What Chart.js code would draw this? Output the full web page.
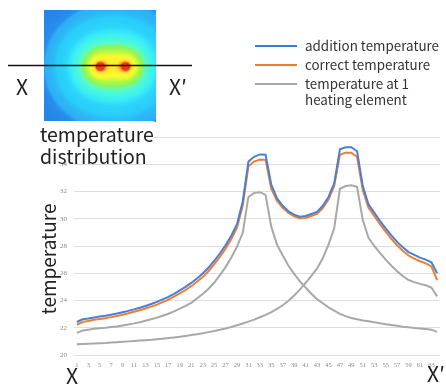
<!DOCTYPE html>
<html lang="en">
<head>
<meta charset="UTF-8">
<title>temperature distribution</title>
<script src="https://cdn.jsdelivr.net/npm/chart.js"></script>
<style>
  body { margin: 0; background: #fff; }
  #wrap { position: relative; width: 446px; height: 388px; overflow: hidden; font-family: "Noto Sans CJK JP", "Noto Sans", sans-serif; color: #222; }
  #chart { position: absolute; left: 0; top: 0; }
  .txt { position: absolute; white-space: nowrap; line-height: 1; }
  .big { font-size: 21px; }
  #dist { left: 38px; top: 121px; width: 114px; height: 40px; font-size: 19.5px; line-height: 22px; background: #fff; padding: 2px 0 0 2px; }
  #ytitle { left: 47px; top: 259px; font-size: 19px; transform: translate(-50%, -50%) rotate(-90deg); }
  .leg { position: absolute; left: 255px; font-size: 13.4px; line-height: 16px; color: #333; }
  .leg i { position: absolute; left: 0; width: 42px; height: 2px; }
  .leg span { position: absolute; left: 50px; top: 0; white-space: nowrap; }
</style>
</head>
<body>
<div id="wrap">
  <canvas id="chart" width="446" height="388"></canvas>
  <div class="txt big" style="left:16px; top:76px;">X</div>
  <div class="txt big" style="left:169px; top:76px;">X′</div>
  <div id="dist" class="txt">temperature<br>distribution</div>
  <div id="ytitle" class="txt">temperature</div>
  <div class="txt big" style="left:66px; top:365px;">X</div>
  <div class="txt big" style="left:427px; top:363px;">X′</div>
  <div class="leg" style="top:37px;"><i style="top:8px; background:#3a7be0;"></i><span>addition temperature</span></div>
  <div class="leg" style="top:56px;"><i style="top:8px; background:#f07b2c;"></i><span>correct temperature</span></div>
  <div class="leg" style="top:75px;"><i style="top:8px; background:#a9a9a9;"></i><span>temperature at 1<br>heating element</span></div>
</div>
<script>
// measuring points along X - X'
const positions = [1, 2, 3, 4, 5, 6, 7, 8, 9, 10, 11, 12, 13, 14, 15, 16, 17, 18, 19, 20,
  21, 22, 23, 24, 25, 26, 27, 28, 29, 30, 31, 32, 33, 34, 35, 36, 37, 38, 39, 40,
  41, 42, 43, 44, 45, 46, 47, 48, 49, 50, 51, 52, 53, 54, 55, 56, 57, 58, 59, 60,
  61, 62, 63, 64];

const additionTemp = [22.42, 22.62, 22.68, 22.76, 22.82, 22.88, 22.96, 23.04, 23.14, 23.24,
  23.35, 23.47, 23.6, 23.74, 23.9, 24.08, 24.27, 24.49, 24.74, 25.0,
  25.29, 25.61, 25.98, 26.4, 26.9, 27.45, 28.05, 28.75, 29.6, 31.25,
  34.2, 34.55, 34.72, 34.7, 32.5, 31.5, 30.95, 30.55, 30.3, 30.15,
  30.2, 30.35, 30.5, 30.95, 31.6, 32.6, 35.1, 35.25, 35.25, 34.95,
  32.4, 31.05, 30.45, 29.85, 29.3, 28.78, 28.3, 27.9, 27.55, 27.35,
  27.15, 27.0, 26.8, 26.0];

const correctTemp = [22.22, 22.42, 22.5, 22.58, 22.64, 22.7, 22.78, 22.86, 22.96, 23.06,
  23.17, 23.29, 23.41, 23.55, 23.7, 23.88, 24.07, 24.28, 24.52, 24.77,
  25.05, 25.37, 25.73, 26.15, 26.65, 27.2, 27.8, 28.5, 29.35, 30.95,
  33.85, 34.2, 34.35, 34.32, 32.2, 31.3, 30.8, 30.42, 30.18, 30.03,
  30.06, 30.2, 30.35, 30.78, 31.42, 32.4, 34.7, 34.85, 34.85, 34.55,
  32.1, 30.8, 30.2, 29.6, 29.05, 28.53, 28.05, 27.65, 27.3, 27.08,
  26.88, 26.72, 26.5, 25.5];

// one heating element only (left one, then right one)
const leftElementTemp = [21.62, 21.8, 21.86, 21.92, 21.96, 22.0, 22.05, 22.1, 22.17, 22.24,
  22.32, 22.41, 22.51, 22.62, 22.74, 22.88, 23.03, 23.2, 23.4, 23.6,
  23.83, 24.15, 24.48, 24.85, 25.3, 25.85, 26.45, 27.15, 27.95, 28.95,
  31.6, 31.9, 31.95, 31.75, 29.4, 28.1, 27.3, 26.55, 25.95, 25.4,
  24.95, 24.5, 24.1, 23.8, 23.5, 23.25, 23.02, 22.85, 22.72, 22.62,
  22.54, 22.47, 22.4, 22.33, 22.26, 22.2, 22.14, 22.08, 22.03, 21.98,
  21.94, 21.9, 21.86, 21.7];

const rightElementTemp = [20.78, 20.8, 20.82, 20.84, 20.86, 20.88, 20.91, 20.94, 20.97, 21.0,
  21.03, 21.06, 21.09, 21.12, 21.16, 21.2, 21.24, 21.29, 21.34, 21.4,
  21.46, 21.53, 21.6, 21.68, 21.76, 21.85, 21.95, 22.06, 22.18, 22.31,
  22.45, 22.6, 22.77, 22.95, 23.15, 23.38, 23.65, 23.98, 24.37, 24.8,
  25.3, 25.8, 26.35, 27.1, 28.1, 29.3, 32.2, 32.4, 32.45, 32.35,
  29.9, 28.6, 28.0, 27.5, 27.0, 26.55, 26.15, 25.8, 25.5, 25.35,
  25.22, 25.12, 24.95, 24.3];

const yTicks = [20, 22, 24, 26, 28, 30, 32, 34, 36];

// small picture of the heat field with the X - X' cut
function colorAt(v) {
  const stops = [
    [0, [35, 128, 230]], [0.019, [40, 142, 236]], [0.024, [45, 175, 245]], [0.04, [45, 185, 246]],
    [0.055, [40, 205, 250]], [0.1, [45, 212, 250]], [0.13, [52, 228, 250]], [0.17, [62, 240, 242]],
    [0.24, [75, 248, 215]], [0.3, [95, 250, 190]], [0.36, [135, 245, 95]], [0.46, [170, 248, 70]],
    [0.56, [225, 250, 50]], [0.62, [248, 250, 50]], [0.78, [252, 235, 45]], [0.86, [255, 150, 40]],
    [0.92, [240, 50, 40]], [3, [235, 40, 40]]
  ];
  for (let k = 1; k < stops.length; k++) {
    if (v <= stops[k][0]) {
      const a = stops[k - 1], b = stops[k];
      const t = (v - a[0]) / (b[0] - a[0]);
      return a[1].map((c, j) => Math.round(c + (b[1][j] - c) * t));
    }
  }
  return stops[stops.length - 1][1];
}

function makeField() {
  const w = 112, h = 112;
  const off = document.createElement('canvas');
  off.width = w; off.height = h;
  const c = off.getContext('2d');
  const img = c.createImageData(w, h);
  const src = [[55, 56], [82, 56]];
  for (let y = 0; y < h; y++) {
    for (let x = 0; x < w; x++) {
      let v = 0.00004 * x;
      src.forEach(s => { v += Math.exp(-Math.hypot(x - s[0], y - s[1]) / 14); });
      const col = colorAt(v);
      const p = (y * w + x) * 4;
      img.data[p] = col[0]; img.data[p + 1] = col[1]; img.data[p + 2] = col[2]; img.data[p + 3] = 255;
    }
  }
  c.putImageData(img, 0, 0);
  return off;
}

const fieldPic = {
  id: 'fieldPic',
  afterDraw(chart) {
    const ctx = chart.ctx;
    if (!this.pic) this.pic = makeField();
    ctx.save();
    ctx.drawImage(this.pic, 44, 10);
    ctx.strokeStyle = '#111';
    ctx.lineWidth = 1.6;
    ctx.beginPath();
    ctx.moveTo(8, 65.5);
    ctx.lineTo(192, 65.5);
    ctx.stroke();
    ctx.restore();
  }
};

function line(data, color) {
  return { data: data, borderColor: color, borderWidth: 2, pointRadius: 0, tension: 0, fill: false };
}

new Chart(document.getElementById('chart'), {
  type: 'line',
  data: {
    labels: positions,
    datasets: [
      line(additionTemp, '#4a7fd6'),
      line(correctTemp, '#ee7e33'),
      line(leftElementTemp, '#a8a8a8'),
      line(rightElementTemp, '#a8a8a8')
    ]
  },
  options: {
    responsive: false,
    animation: false,
    devicePixelRatio: 1,
    layout: { padding: { left: 0, right: 6, top: 137, bottom: 0 } },
    plugins: { legend: { display: false }, tooltip: { enabled: false } },
    scales: {
      x: {
        offset: true,
        grid: { display: false },
        border: { display: false },
        ticks: {
          autoSkip: false, maxRotation: 0, padding: -2,
          color: '#8a8a8a', font: { size: 6.5, family: 'Liberation Serif' },
          callback: (v, i) => (i % 2 === 0 ? positions[i] : '')
        },
        afterFit: s => { s.height = 33; }
      },
      y: {
        min: 20, max: 36,
        afterBuildTicks: s => { s.ticks = yTicks.map(v => ({ value: v })); },
        grid: { color: '#dedede', lineWidth: 1, drawTicks: false },
        border: { display: false },
        ticks: { padding: 7, color: '#8a8a8a', font: { size: 7, family: 'Liberation Serif' } },
        afterFit: s => { s.width = 74; }
      }
    }
  },
  plugins: [fieldPic]
});
</script>
</body>
</html>
